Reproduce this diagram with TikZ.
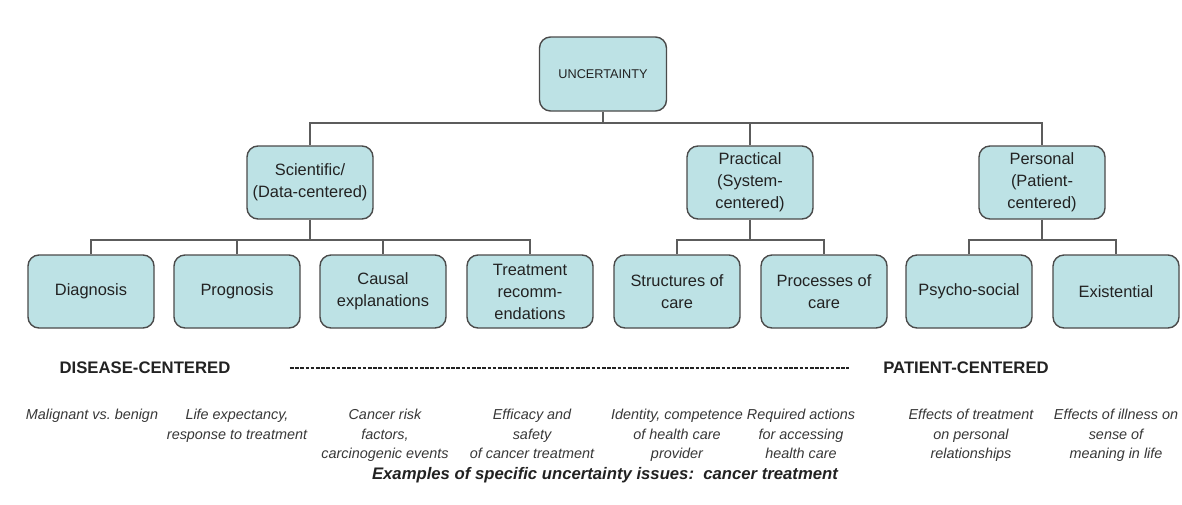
\documentclass[tikz,border=0pt]{standalone}
\usepackage{fontspec}
\setmainfont{Liberation Sans}
\frenchspacing
\definecolor{boxfill}{HTML}{BDE2E5}
\definecolor{boxline}{HTML}{4A4A4A}
\definecolor{inkgray}{HTML}{222222}
\tikzset{
    box/.style = {draw=boxline, line width=1.4pt, fill=boxfill, rounded corners=11pt,
                  minimum width=126pt, minimum height=73pt, inner sep=0pt, align=center,
                  text=inkgray, font=\fontsize{16.4}{22}\selectfont},
    link/.style = {draw=boxline!90, line width=1.4pt},
    side/.style = {font=\bfseries\fontsize{16.7}{20}\selectfont, text=inkgray},
    example/.style = {anchor=north, align=center, inner sep=0pt, text=inkgray!90,
                      font=\itshape\fontsize{14.4}{19.5}\selectfont}
}
\begin{document}
\begin{tikzpicture}[x=1pt, y=-1pt]
                \path[fill=white, use as bounding box] (0,0) rectangle (1182,504);
                \node[box, minimum width=127pt, minimum height=74pt,
                      font=\fontsize{12.7}{15}\selectfont] (unc) at (603,74) {UNCERTAINTY};
                \node[box] (sci) at (310,182.5) {Scientific/\\(Data-centered)};
                \node[box] (prac) at (750,182.5) {Practical\\(System-\\centered)};
                \node[box] (pers) at (1042,182.5) {Personal\\(Patient-\\centered)};
                \node[box] (diag) at (91,291.5) {Diagnosis};
                \node[box] (prog) at (237,291.5) {Prognosis};
                \node[box] (caus) at (383,291.5) {Causal\\explanations};
                \node[box] (treat) at (530,291.5) {Treatment\\recomm-\\endations};
                \node[box] (struct) at (677,291.5) {Structures of\\care};
                \node[box] (proc) at (824,291.5) {Processes of\\care};
                \node[box] (psy) at (969,291.5) {Psycho-social};
                \node[box] (exist) at (1116,291.5) {Existential};
                % tree lines
                \coordinate (top) at (603,123);
                \coordinate (low) at (0,240);
                \draw[link] (unc) -- (top);
                \draw[link] (sci.north) |- (top) -| (pers.north);
                \draw[link] (prac.north) -- (prac.north |- top);
                \draw[link] (sci) -- (sci |- low);
                \draw[link] (diag.north) |- (sci |- low) -| (treat.north);
                \draw[link] (prog.north) -- (prog.north |- low);
                \draw[link] (caus.north) -- (caus.north |- low);
                \draw[link] (struct.north) |- (prac |- low) -| (proc.north);
                \draw[link] (prac) -- (prac |- low);
                \draw[link] (psy.north) |- (pers |- low) -| (exist.north);
                \draw[link] (pers) -- (pers |- low);
                % disease- to patient-centered scale
                \node[side] (dis) at (145,368) {DISEASE-CENTERED};
                \node[side] (pat) at (966,368) {PATIENT-CENTERED};
                \draw[inkgray, line width=1.7pt, dash pattern=on 3.6pt off 1.6pt]
                    ([xshift=56pt]dis.east) -- ([xshift=-31pt]pat.west);
                % examples
                \node[example] (ex1) at (92,409) {Malignant vs. benign};
                \node[example] (ex2) at (237,409) {Life expectancy,\\response to treatment};
                \node[example] (ex3) at (385,409) {Cancer risk\\factors,\\carcinogenic events};
                \node[example] (ex4) at (532,409) {Efficacy and\\safety\\of cancer treatment};
                \node[example] (ex5) at (677,409) {Identity, competence\\of health care\\provider};
                \node[example] (ex6) at (801,409) {Required actions\\for accessing\\health care};
                \node[example] (ex7) at (971,409) {Effects of treatment\\on personal\\relationships};
                \node[example] (ex8) at (1116,409) {Effects of illness on\\sense of\\meaning in life};
                \node[font=\bfseries\itshape\fontsize{16.7}{20}\selectfont, text=inkgray] (cap) at (605,475)
                    {Examples of specific uncertainty issues:\ \ cancer treatment};
\end{tikzpicture}
\end{document}
